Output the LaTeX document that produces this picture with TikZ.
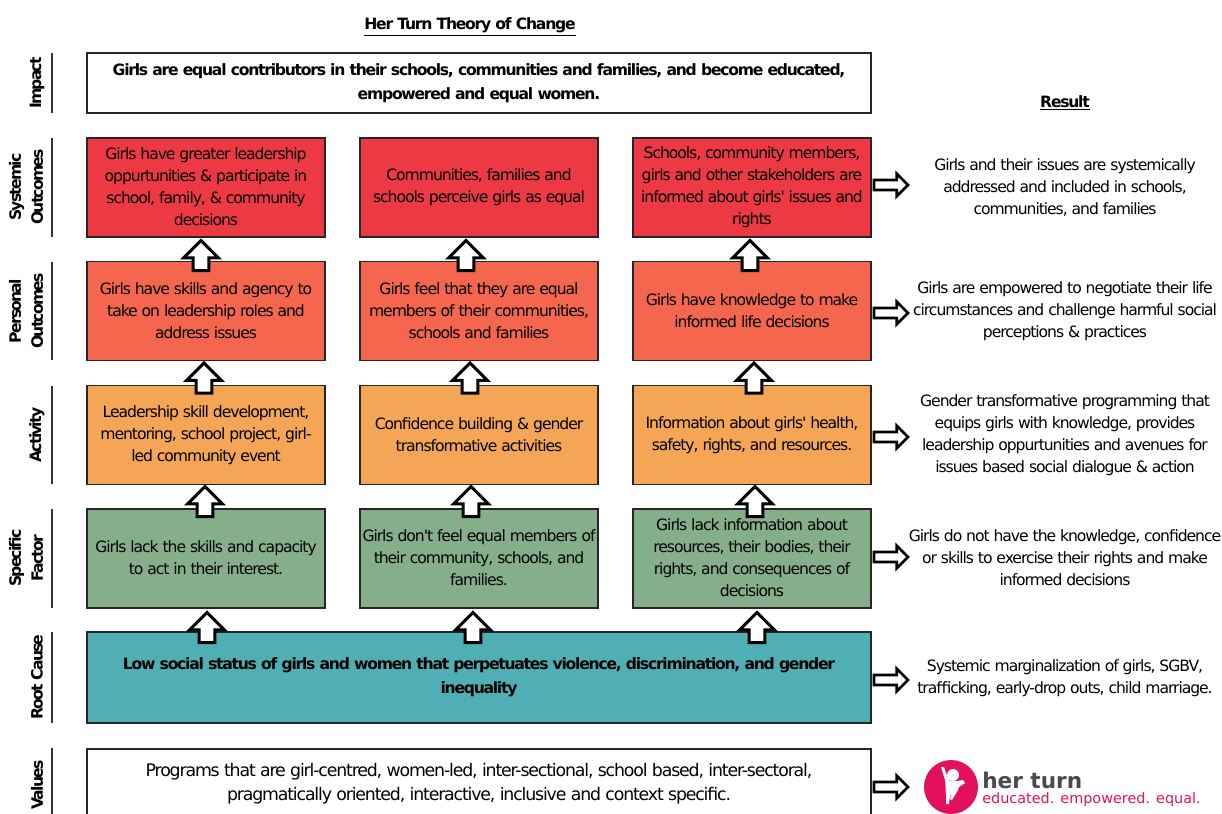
\documentclass[tikz,border=0pt]{standalone}
\usepackage{fontspec}
\usetikzlibrary{shapes.arrows}
\setmainfont{DejaVu Sans}[LetterSpace=-6.7,Ligatures=TeXOff,BoldFeatures={LetterSpace=-8}]
\newfontfamily\logofont{DejaVu Sans}
\newfontfamily\labelfont{DejaVu Sans Bold}[LetterSpace=-11.5]
\definecolor{sysred}{HTML}{EC3944}
\definecolor{perorange}{HTML}{F4674E}
\definecolor{actorange}{HTML}{F4A556}
\definecolor{specgreen}{HTML}{85AF8B}
\definecolor{rootteal}{HTML}{4FAFB4}
\definecolor{logopink}{HTML}{E5105C}
\definecolor{logogray}{HTML}{4A4A4A}
\newcommand{\linestrut}{\rule[-1.25pt]{0pt}{16.5pt}}
\tikzset{
  x=0.75pt,y=-0.75pt,
  struts/.style={execute at begin node=\linestrut,execute at end node=\linestrut},
  txt/.style={font=\fontsize{11.7pt}{16.5pt}\selectfont,align=center,inner sep=0pt,text=black,struts},
  rowlabel/.style={font=\labelfont\fontsize{11.7pt}{16.5pt}\selectfont,align=center,inner sep=0pt,rotate=90,anchor=center},
  box/.style={draw=black!85,line width=1.2pt,minimum width=178.5pt,minimum height=74pt,inner sep=0pt,align=center,font=\fontsize{11.7pt}{16.5pt}\selectfont,struts},
  wide/.style={box,minimum width=588pt},
  upa/.style={draw=black,fill=white,line width=2.25pt,single arrow,single arrow head extend=7pt,single arrow head indent=0pt,minimum height=22.5pt,inner sep=0pt,rotate=90},
  rta/.style={draw=black,fill=white,line width=2pt,single arrow,single arrow head extend=4.7pt,single arrow head indent=0pt,minimum height=25.5pt,inner sep=0pt},
  sep/.style={draw=black!80,line width=1pt},
  heading/.style={font=\fontsize{11.7pt}{14pt}\selectfont\bfseries,inner sep=0pt}
}
\newcommand{\upshaft}{\rule{0pt}{9.5pt}}
\newcommand{\rtshaft}{\rule{0pt}{5.6pt}}
\begin{document}
\begin{tikzpicture}
\useasboundingbox (0,0) rectangle (1222,814);
\clip (0,0) rectangle (1222,814);

\node[heading] (title) at (470,27) {\underline{Her Turn Theory of Change}};
\node[heading] (result) at (1065,103) {\underline{Result}};

% row separators and labels
\draw[sep] (52,53) coordinate (s1a) -- (52,113) coordinate (s1b);
\draw[sep] (52,138) coordinate (s2a) -- (52,237) coordinate (s2b);
\draw[sep] (52,262) coordinate (s3a) -- (52,360) coordinate (s3b);
\draw[sep] (52,386) coordinate (s4a) -- (52,484) coordinate (s4b);
\draw[sep] (52,509) coordinate (s5a) -- (52,608) coordinate (s5b);
\draw[sep] (52,632) coordinate (s6a) -- (52,723) coordinate (s6b);
\draw[sep] (52,748) coordinate (s7a) -- (52,814) coordinate (s7b);
\node[rowlabel] (l1) at (37,83) {Impact};
\node[rowlabel] (l2) at (26,187) {Systemic\\Outcomes};
\node[rowlabel] (l3) at (26,311) {Personal\\Outcomes};
\node[rowlabel] (l4) at (37,435) {Activity};
\node[rowlabel] (l5) at (26,558) {Specific\\Factor};
\node[rowlabel] (l6) at (37,677) {Root Cause};
\node[rowlabel] (l7) at (37,785) {Values};

% boxes
\node[wide,fill=white,minimum height=45pt,font=\fontsize{11.7pt}{18pt}\selectfont\bfseries] (impact) at (479,83) {Girls are equal contributors in their schools, communities and families, and become educated,\\empowered and equal women.};

\node[box,fill=sysred] (a1) at (206,187.5) {Girls have greater leadership\\oppurtunities \& participate in\\school, family, \& community\\decisions};
\node[box,fill=sysred] (a2) at (479,187.5) {Communities, families and\\schools perceive girls as equal};
\node[box,fill=sysred] (a3) at (752,187.5) {Schools, community members,\\girls and other stakeholders are\\informed about girls' issues and\\rights};

\node[box,fill=perorange] (b1) at (206,311) {Girls have skills and agency to\\take on leadership roles and\\address issues};
\node[box,fill=perorange] (b2) at (479,311) {Girls feel that they are equal\\members of their communities,\\schools and families};
\node[box,fill=perorange] (b3) at (752,311) {Girls have knowledge to make\\informed life decisions};

\node[box,fill=actorange] (c1) at (206,435) {Leadership skill development,\\mentoring, school project, girl-\\led community event};
\node[box,fill=actorange] (c2) at (479,435) {Confidence building \& gender\\transformative activities};
\node[box,fill=actorange] (c3) at (752,435) {Information about girls' health,\\safety, rights, and resources.};

\node[box,fill=specgreen] (d1) at (206,558.5) {Girls lack the skills and capacity\\to act in their interest.};
\node[box,fill=specgreen] (d2) at (479,558.5) {Girls don't feel equal members of\\their community, schools, and\\families.};
\node[box,fill=specgreen] (d3) at (752,558.5) {Girls lack information about\\resources, their bodies, their\\rights, and consequences of\\decisions};

\node[wide,fill=rootteal,minimum height=68pt,font=\fontsize{11.7pt}{18pt}\selectfont\bfseries] (root) at (479,677.5) {Low social status of girls and women that perpetuates violence, discrimination, and gender\\inequality};

\node[wide,fill=white,minimum height=60pt,anchor=north] (values) at (479,748) {};
\node[txt,font=\fontsize{13pt}{18pt}\selectfont] (valtext) at (479,784) {Programs that are girl-centred, women-led, inter-sectional, school based, inter-sectoral,\\pragmatically oriented, interactive, inclusive and context specific.};

% up arrows
\node[upa] (u11) at (201,259.5) {\upshaft};
\node[upa] (u12) at (466,259.5) {\upshaft};
\node[upa] (u13) at (750,259.5) {\upshaft};
\node[upa] (u21) at (204,382) {\upshaft};
\node[upa] (u22) at (470,382) {\upshaft};
\node[upa] (u23) at (754,382) {\upshaft};
\node[upa] (u31) at (205,505.5) {\upshaft};
\node[upa] (u32) at (471,505.5) {\upshaft};
\node[upa] (u33) at (755,505.5) {\upshaft};
\node[upa] (u41) at (207,631.5) {\upshaft};
\node[upa] (u42) at (473,631.5) {\upshaft};
\node[upa] (u43) at (757,631.5) {\upshaft};

% right arrows
\node[rta] (r1) at (888.5,185) {\rtshaft};
\node[rta] (r2) at (888.5,313) {\rtshaft};
\node[rta] (r3) at (888.5,437) {\rtshaft};
\node[rta] (r4) at (888.5,557) {\rtshaft};
\node[rta] (r5) at (888.5,680) {\rtshaft};
\node[rta] (r6) at (888.5,787) {\rtshaft};

% results
\node[txt] (t1) at (1065,187.5) {Girls and their issues are systemically\\addressed and included in schools,\\communities, and families};
\node[txt] (t2) at (1065,311) {Girls are empowered to negotiate their life\\circumstances and challenge harmful social\\perceptions \& practices};
\node[txt] (t3) at (1065,435) {Gender transformative programming that\\equips girls with knowledge, provides\\leadership oppurtunities and avenues for\\issues based social dialogue \& action};
\node[txt] (t4) at (1065,558) {Girls do not have the knowledge, confidence\\or skills to exercise their rights and make\\informed decisions};
\node[txt] (t5) at (1065,678) {Systemic marginalization of girls, SGBV,\\trafficking, early-drop outs, child marriage.};

% logo
\fill[logopink] (951,787) circle[radius=27];
\fill[white] (941,767) -- (944,767) -- (947,776) -- (950,781) -- (957,781) -- (963,780) -- (965,783) -- (959,787) .. controls (958,790) and (957,793) .. (955,795) -- (952,800) -- (950,799) -- (951,794) -- (950,795) -- (949,804) -- (946,804) -- (946,794) .. controls (945,788) and (946,784) .. (945,780) -- cycle;
\fill[white] (953,775) circle[radius=6];
\node[font=\logofont\fontsize{16.2pt}{20pt}\selectfont\bfseries,text=logogray,anchor=base west,inner sep=0pt] (logo1) at (982,788) {her turn};
\node[font=\logofont\fontsize{10.8pt}{12pt}\selectfont,text=logopink,anchor=base west,inner sep=0pt] (logo2) at (982,803) {educated. empowered. equal.};
\end{tikzpicture}
\end{document}
